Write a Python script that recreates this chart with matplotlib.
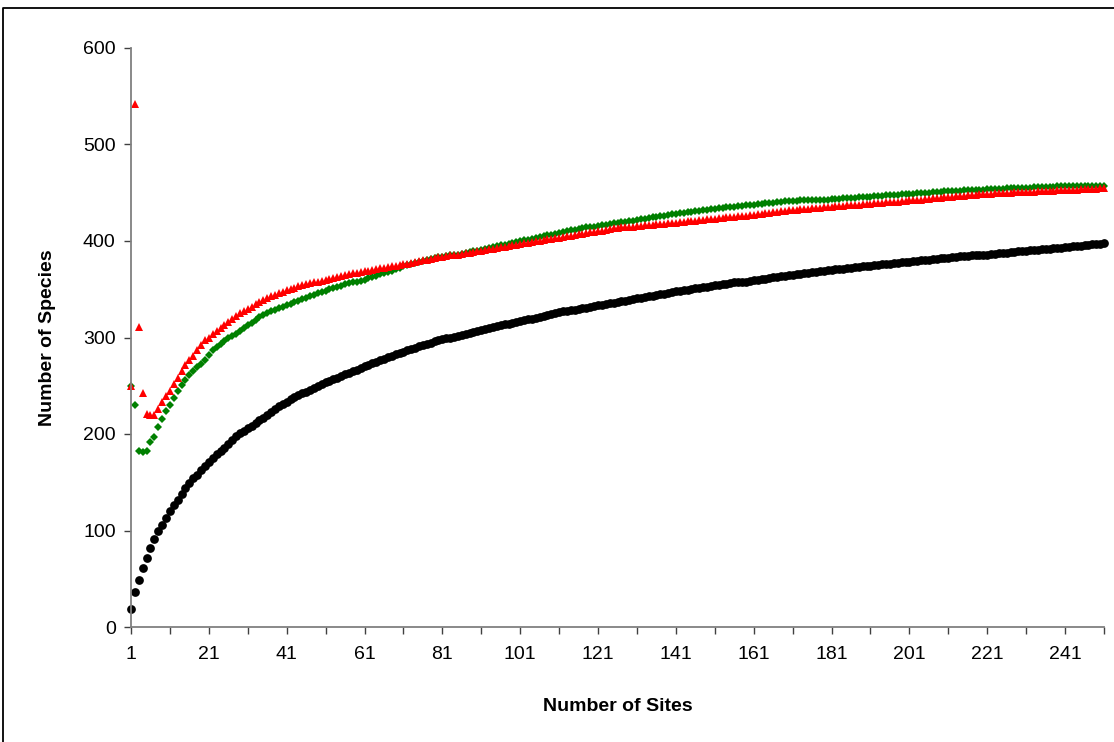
'''Species accumulation curves: observed vs. two estimators'''
import matplotlib.pyplot as plt
from matplotlib.lines import Line2D
import numpy as np

plt.rcParams['font.family'] = ['Liberation Sans', 'DejaVu Sans']

LABEL_SIZE = 14

sites = np.arange(1, 252)

observed = [
    19, 36, 49, 61, 72, 82, 91, 99, 106, 113, 120, 126, 132, 138, 144, 149, 154,
    158, 163, 167, 171, 175, 179, 182, 186, 190, 194, 198, 201, 203, 206, 208, 211,
    214, 217, 220, 223, 226, 229, 231,
    233, 236, 238, 240, 242, 244, 246, 248, 250, 252,
    254, 255, 257, 258, 260, 262, 263, 265, 266, 268,
    270, 272, 274, 275, 277, 278, 280, 281, 283, 284,
    285, 287, 288, 289, 291, 292, 293, 294, 296, 297,
    298, 299, 300, 301, 302, 303, 304, 305, 306, 307,
    308, 309, 310, 311, 312, 313, 314, 314, 315, 316,
    317, 318, 319, 319, 320, 321, 322, 323, 324, 325,
    326, 327, 327, 328, 329, 330, 331, 331, 332, 333,
    334, 334, 335, 336, 336, 337, 338, 338, 339, 340,
    341, 341, 342, 343, 343, 344, 345, 345, 346, 347,
    348, 348, 349, 349, 350, 351, 351, 352, 352, 353,
    354, 354, 355, 355, 356, 357, 357, 358, 358, 359,
    360, 360, 361, 361, 362, 363, 363, 364, 364, 365,
    365, 366, 366, 367, 367, 368, 368, 369, 369, 370,
    370, 371, 371, 371, 372, 372, 373, 373, 374, 374,
    374, 375, 375, 376, 376, 376, 377, 377, 378, 378,
    378, 379, 379, 380, 380, 380, 381, 381, 382, 382,
    382, 383, 383, 384, 384, 384, 385, 385, 386, 386,
    386, 387, 387, 388, 388, 388, 389, 389, 390, 390,
    390, 391, 391, 391, 392, 392, 392, 393, 393, 393,
    394, 394, 395, 395, 395, 396, 396, 397, 397, 397, 398,
]

estimator_green = [
    250, 230, 182, 181, 182, 192, 197, 207, 216, 224, 230, 237, 245, 251, 256, 261,
    265, 269, 273, 277, 282, 287, 290, 293, 296, 299, 302, 304, 307, 310, 313, 315, 318,
    321, 323, 325, 327, 329, 331, 332,
    334, 335, 337, 338, 340, 341, 343, 344, 346, 347,
    348, 350, 351, 352, 353, 355, 356, 357, 358, 359,
    360, 362, 363, 364, 366, 367, 368, 369, 371, 372,
    374, 375, 376, 377, 378, 379, 380, 381, 382, 383,
    383, 384, 385, 386, 386, 387, 388, 389, 390, 390,
    391, 392, 393, 394, 395, 396, 396, 397, 398, 399,
    400, 401, 401, 402, 403, 404, 405, 406, 406, 407,
    408, 409, 410, 411, 411, 412, 413, 414, 414, 415,
    416, 417, 417, 418, 419, 419, 420, 420, 421, 421,
    422, 423, 423, 424, 425, 425, 426, 426, 427, 428,
    428, 429, 429, 430, 430, 431, 431, 432, 432, 433,
    433, 434, 434, 435, 435, 435, 436, 436, 437, 437,
    437, 438, 438, 439, 439, 439, 440, 440, 441, 441,
    441, 441, 442, 442, 442, 442, 443, 443, 443, 443,
    444, 444, 444, 445, 445, 445, 445, 446, 446, 446,
    446, 447, 447, 447, 448, 448, 448, 448, 449, 449,
    449, 449, 450, 450, 450, 450, 451, 451, 451, 452,
    452, 452, 452, 452, 453, 453, 453, 453, 453, 453,
    454, 454, 454, 454, 454, 455, 455, 455, 455, 455,
    455, 455, 456, 456, 456, 456, 456, 456, 457, 457,
    457, 457, 457, 457, 457, 457, 457, 457, 457, 457, 457,
]

estimator_red = [
    250, 542, 311, 243, 221, 220, 220, 226, 233, 239, 245, 252, 258, 265, 271, 277,
    281, 287, 292, 297, 300, 304, 307, 310, 313, 316, 319, 322, 325, 327, 330, 332, 335,
    337, 339, 341, 343, 344, 346, 347,
    349, 350, 351, 353, 354, 355, 356, 357, 358, 359,
    360, 361, 362, 363, 364, 365, 366, 367, 367, 368,
    369, 369, 370, 371, 372, 372, 373, 374, 374, 375,
    376, 376, 377, 378, 379, 380, 380, 381, 382, 383,
    383, 384, 385, 386, 386, 387, 388, 388, 389, 390,
    390, 391, 392, 392, 393, 394, 394, 395, 396, 396,
    397, 398, 398, 399, 400, 400, 401, 402, 402, 403,
    403, 404, 405, 405, 406, 407, 407, 408, 409, 409,
    410, 410, 411, 412, 413, 413, 414, 414, 415, 415,
    416, 416, 417, 417, 417, 418, 418, 418, 419, 419,
    419, 420, 420, 421, 421, 421, 422, 422, 423, 423,
    423, 424, 424, 425, 425, 425, 426, 426, 426, 427,
    427, 428, 428, 429, 429, 430, 430, 431, 431, 432,
    432, 432, 433, 433, 433, 434, 434, 434, 435, 435,
    435, 436, 436, 436, 437, 437, 437, 437, 438, 438,
    438, 439, 439, 439, 440, 440, 440, 440, 441, 441,
    442, 442, 443, 443, 444, 444, 445, 445, 445, 446,
    446, 446, 447, 447, 447, 448, 448, 448, 449, 449,
    449, 449, 450, 450, 450, 450, 450, 451, 451, 451,
    451, 451, 451, 452, 452, 452, 452, 452, 453, 453,
    453, 453, 453, 453, 454, 454, 454, 454, 454, 455, 455,
]

fig = plt.figure(figsize=(11.14, 7.42), dpi=100)
ax = fig.add_axes([131 / 1114, 1 - 627 / 742, (1104 - 131) / 1114, (627 - 48) / 742])

# outer chart border (only top and left edges fall inside the picture)
fig.lines.append(Line2D([3 / 1114, 3 / 1114, 1], [0, 1 - 8 / 742, 1 - 8 / 742],
                        transform=fig.transFigure, color='black', linewidth=1.3))

ax.plot(sites, observed, 'o', color='black', markersize=6.3, markeredgewidth=0)
ax.plot(sites, estimator_green, 'D', color='#008000', markersize=3.8, markeredgewidth=0)
ax.plot(sites, estimator_red, '^', color='#ff0000', markersize=5.8, markeredgewidth=0)

ax.set_xlim(1, 251)
ax.set_ylim(0, 600)
ax.set_yticks(range(0, 601, 100))
ax.set_xticks(range(1, 252, 10))
labels = []
for i, t in enumerate(range(1, 252, 10)):
    labels.append(str(t) if i % 2 == 0 else '')
ax.set_xticklabels(labels)

for side in ['top', 'right']:
    ax.spines[side].set_visible(False)
for side in ['left', 'bottom']:
    ax.spines[side].set_color('#808080')
    ax.spines[side].set_linewidth(1.3)
ax.tick_params(axis='both', direction='out', length=5, width=1, color='#404040',
               labelsize=LABEL_SIZE, pad=6)
ax.tick_params(axis='x', pad=9)

ax.set_xlabel('Number of Sites', fontsize=LABEL_SIZE, fontweight='bold')
ax.set_ylabel('Number of Species', fontsize=LABEL_SIZE, fontweight='bold')
ax.xaxis.set_label_coords(0.5, -0.123)
ax.yaxis.set_label_coords(-0.077, 0.5)
for line in ax.lines:
    line.set_clip_on(False)

fig.savefig('out.png', dpi=100)
